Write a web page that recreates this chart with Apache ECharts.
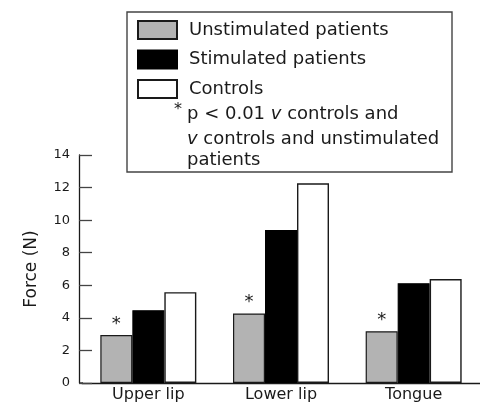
<!DOCTYPE html>
<html>
<head>
<meta charset="utf-8">
<script src="https://cdn.jsdelivr.net/npm/echarts@6/dist/echarts.min.js"></script>
<style>
html,body{margin:0;padding:0;background:#fff;}
#chart{width:480px;height:407px;}
</style>
</head>
<body>
<div id="chart"></div>
<script>
const categories = ['Upper lip', 'Lower lip', 'Tongue'];
const unstimulated = [2.95, 4.27, 3.18];
const stimulated = [4.47, 9.39, 6.13];
const controls = [5.58, 12.26, 6.38];
const significance = ['*', '*', '*'];
const seriesNames = ['Unstimulated patients', 'Stimulated patients', 'Controls'];
const yTicks = { min: 0, max: 14, interval: 2 };
const noteLines = ['p < 0.01 ', 'v', ' controls and', 'v', ' controls and unstimulated', 'patients'];

const FONT = 'DejaVu Sans';
const INK = '#1a1a1a';
const chart = echarts.init(document.getElementById('chart'), null, { renderer: 'canvas' });

const barBase = {
  type: 'bar',
  barWidth: 32,
  barGap: '0%',
  barCategoryGap: '0%'
};

const richStyles = {
  n: { fontFamily: FONT, fontSize: 18, fill: INK, color: INK },
  i: { fontFamily: FONT, fontSize: 18, fontStyle: 'italic', fill: INK, color: INK }
};

chart.setOption({
  animation: false,
  backgroundColor: '#fff',
  textStyle: { fontFamily: FONT },
  grid: { left: 82, width: 410, top: 155, bottom: 24, containLabel: false },
  legend: {
    orient: 'vertical',
    left: 137,
    top: 20,
    padding: 0,
    itemWidth: 39,
    itemHeight: 18,
    itemGap: 9.5,
    icon: 'rect',
    selectedMode: false,
    data: seriesNames,
    textStyle: { fontFamily: FONT, fontSize: 18, color: INK, padding: [0, 0, 0, 7], lineHeight: 18 }
  },
  xAxis: {
    type: 'category',
    data: categories,
    axisLine: { lineStyle: { color: INK, width: 1.3 } },
    axisTick: { inside: true, length: 13, interval: function (i) { return i > 0; }, lineStyle: { color: '#444', width: 1.3 } },
    axisLabel: { fontFamily: FONT, fontSize: 16, color: INK, margin: 4 }
  },
  yAxis: {
    type: 'value',
    min: yTicks.min,
    max: yTicks.max,
    interval: yTicks.interval,
    offset: 3,
    name: 'Force (N)',
    nameLocation: 'middle',
    nameGap: 39,
    nameTextStyle: { fontFamily: FONT, fontSize: 17, color: INK },
    axisLine: { show: true, lineStyle: { color: INK, width: 1.3 } },
    axisTick: { show: true, inside: true, length: 13, lineStyle: { color: '#444', width: 1.3 } },
    axisLabel: { fontFamily: FONT, fontSize: 13, color: INK, margin: 9 },
    splitLine: { show: false }
  },
  series: [
    Object.assign({}, barBase, {
      name: seriesNames[0],
      data: unstimulated,
      itemStyle: { color: '#b3b3b3', borderColor: '#1a1a1a', borderWidth: 1.2 },
      label: {
        show: true, position: 'top', distance: 2,
        formatter: function (p) { return significance[p.dataIndex]; },
        fontFamily: FONT, fontSize: 18, color: INK
      }
    }),
    Object.assign({}, barBase, {
      name: seriesNames[1],
      data: stimulated,
      itemStyle: { color: '#000000', borderColor: '#000000', borderWidth: 1.2 }
    }),
    Object.assign({}, barBase, {
      name: seriesNames[2],
      data: controls,
      itemStyle: { color: '#ffffff', borderColor: '#1a1a1a', borderWidth: 1.4 }
    })
  ],
  graphic: [
    {
      type: 'rect',
      shape: { x: 127, y: 12, width: 325, height: 160 },
      style: { fill: 'transparent', stroke: '#444', lineWidth: 1.4 },
      silent: true
    },
    {
      type: 'line',
      shape: { x1: 79, y1: 383, x2: 83, y2: 383 },
      style: { stroke: INK, lineWidth: 1.3 },
      silent: true
    },
    {
      type: 'text', left: 174, top: 102,
      style: { text: '*', fontFamily: FONT, fontSize: 16, fill: INK }
    },
    {
      type: 'text', left: 187, top: 105,
      style: {
        text: '{n|' + noteLines[0] + '}{i|' + noteLines[1] + '}{n|' + noteLines[2] + '}',
        rich: richStyles
      }
    },
    {
      type: 'text', left: 187, top: 130,
      style: {
        text: '{i|' + noteLines[3] + '}{n|' + noteLines[4] + '}',
        rich: richStyles
      }
    },
    {
      type: 'text', left: 187, top: 151,
      style: { text: noteLines[5], fontFamily: FONT, fontSize: 18, fill: INK }
    }
  ]
});
</script>
</body>
</html>
